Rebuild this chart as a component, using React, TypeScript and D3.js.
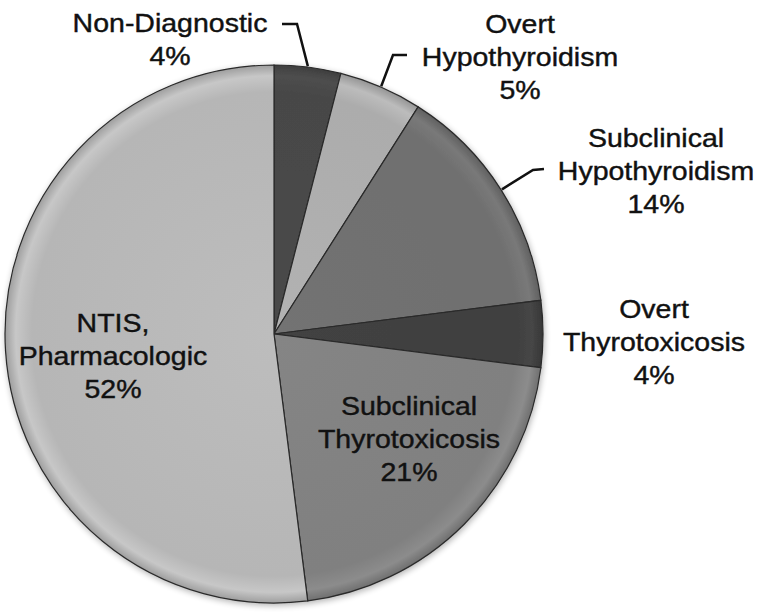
import React, { useEffect, useRef } from 'react'
import * as d3 from 'd3'

const categories = [
  'Non-Diagnostic',
  'Overt Hypothyroidism',
  'Subclinical Hypothyroidism',
  'Overt Thyrotoxicosis',
  'Subclinical Thyrotoxicosis',
  'NTIS, Pharmacologic',
]
const values = [4, 5, 14, 4, 21, 52]
const labelLines = [
  ['Non-Diagnostic', '4%'],
  ['Overt', 'Hypothyroidism', '5%'],
  ['Subclinical', 'Hypothyroidism', '14%'],
  ['Overt', 'Thyrotoxicosis', '4%'],
  ['Subclinical', 'Thyrotoxicosis', '21%'],
  ['NTIS,', 'Pharmacologic', '52%'],
]
const fills = ['#474747', '#acacac', '#6f6f6f', '#404040', '#808080', '#b6b6b6']

// label anchor (center x, first baseline) and leader polyline, px
const labelPos = [
  { x: 170, y: 32, leader: [[282, 24], [297, 24]] },
  { x: 520, y: 33, leader: [[407, 55], [393, 55]] },
  { x: 656, y: 147, leader: [[544, 169], [533, 170]] },
  { x: 654, y: 318, leader: null },
  { x: 409, y: 415, leader: null },
  { x: 113, y: 332, leader: null },
]

const App = () => {
  const svgRef = useRef<SVGSVGElement>(null)

  useEffect(() => {
    const width = 762
    const height = 616
    const cx = 274
    const cy = 334
    const r = 269

    const svg = d3.select(svgRef.current).attr('width', width).attr('height', height)
    svg.selectAll('*').remove()

    const defs = svg.append('defs')
    const shadow = defs.append('filter').attr('id', 'shadow').attr('x', '-10%').attr('y', '-10%').attr('width', '120%').attr('height', '120%')
    shadow.append('feGaussianBlur').attr('in', 'SourceAlpha').attr('stdDeviation', 3)
    shadow.append('feOffset').attr('dx', 1).attr('dy', 2).attr('result', 'b')
    shadow.append('feComponentTransfer').append('feFuncA').attr('type', 'linear').attr('slope', 0.3)
    const merge = shadow.append('feMerge')
    merge.append('feMergeNode')
    merge.append('feMergeNode').attr('in', 'SourceGraphic')

    fills.forEach((c, i) => {
      const base = d3.color(c)!
      const g = defs
        .append('radialGradient')
        .attr('id', `grad${i}`)
        .attr('gradientUnits', 'userSpaceOnUse')
        .attr('cx', 0)
        .attr('cy', 0)
        .attr('r', r)
      g.append('stop').attr('offset', '0%').attr('stop-color', base.brighter(0.1).formatHex())
      g.append('stop').attr('offset', '90%').attr('stop-color', c)
      g.append('stop').attr('offset', '96%').attr('stop-color', base.brighter(0.25).formatHex())
      g.append('stop').attr('offset', '100%').attr('stop-color', base.darker(0.4).formatHex())
    })

    const pie = d3
      .pie<number>()
      .sort(null)
      .value((d) => d)
    const arcs = pie(values)
    const arc = d3.arc<d3.PieArcDatum<number>>().innerRadius(0).outerRadius(r)

    const g = svg.append('g').attr('transform', `translate(${cx},${cy})`)
    g.append('g')
      .attr('filter', 'url(#shadow)')
      .selectAll('path')
      .data(arcs)
      .join('path')
      .attr('d', arc)
      .attr('fill', (_, i) => `url(#grad${i})`)
      .attr('stroke', '#2a2a2a')
      .attr('stroke-width', 1.2)

    // leader lines to the rim
    arcs.forEach((a, i) => {
      const lp = labelPos[i]
      if (!lp.leader) return
      const mid = (a.startAngle + a.endAngle) / 2
      const end = [cx + (r + 1) * Math.sin(mid), cy - (r + 1) * Math.cos(mid)]
      const pts = [...lp.leader, end] as [number, number][]
      svg
        .append('path')
        .attr('d', d3.line()(pts))
        .attr('fill', 'none')
        .attr('stroke', '#111')
        .attr('stroke-width', 2.5)
    })

    // labels
    categories.forEach((_, i) => {
      const lp = labelPos[i]
      const t = svg
        .append('text')
        .attr('transform', `translate(${lp.x},${lp.y}) scale(1.14,1)`)
        .attr('text-anchor', 'middle')
        .style('font-family', 'Liberation Sans, Arial, sans-serif')
        .style('font-size', '25px')
        .style('fill', '#111')
        .style('stroke', '#111')
        .style('stroke-width', 0.4)
      labelLines[i].forEach((line, j) => {
        t.append('tspan')
          .attr('x', 0)
          .attr('y', j * 33)
          .text(line)
      })
    })
  }, [])

  return <svg ref={svgRef} style={{ position: 'absolute', left: 0, top: 0 }}></svg>
}

export default App
